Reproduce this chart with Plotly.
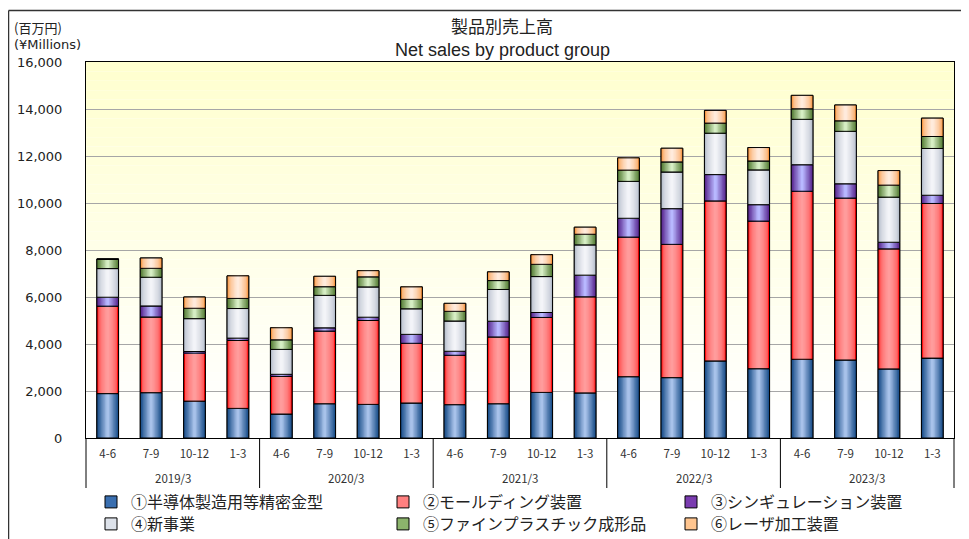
import plotly.graph_objects as go
import numpy as np

# ---------------- data ----------------
fiscal_years = ["2019/3", "2020/3", "2021/3", "2022/3", "2023/3"]
quarters = ["4-6", "7-9", "10-12", "1-3"]

series_names = [
    "①半導体製造用等精密金型",
    "②モールディング装置",
    "③シンギュレーション装置",
    "④新事業",
    "⑤ファインプラスチック成形品",
    "⑥レーザ加工装置",
]

precision_molds = [1890, 1930, 1570, 1260, 1020, 1460, 1430, 1490, 1420, 1460,
                   1940, 1920, 2610, 2570, 3280, 2950, 3350, 3320, 2940, 3400]
molding_equipment = [3720, 3220, 2040, 2890, 1600, 3090, 3570, 2540, 2100, 2840,
                     3190, 4090, 5940, 5670, 6810, 6280, 7150, 6890, 5110, 6580]
singulation_equipment = [380, 470, 70, 100, 90, 140, 140, 380, 170, 670,
                         210, 920, 800, 1520, 1120, 700, 1130, 610, 280, 350]
new_business = [1220, 1220, 1400, 1260, 1060, 1380, 1290, 1090, 1290, 1350,
                1530, 1290, 1570, 1560, 1760, 1480, 1930, 2230, 1920, 1990]
fine_plastic = [400, 380, 440, 430, 410, 370, 430, 400, 410, 380,
                520, 450, 480, 430, 430, 380, 450, 450, 510, 510]
laser_equipment = [0, 440, 480, 960, 510, 440, 260, 530, 340, 370,
                   410, 300, 520, 580, 540, 570, 570, 670, 620, 780]

series_values = [precision_molds, molding_equipment, singulation_equipment,
                 new_business, fine_plastic, laser_equipment]

y_ticks = [0, 2000, 4000, 6000, 8000, 10000, 12000, 14000, 16000]

# ---------------- styles ----------------
# (legend colour, edge colour, centre colour, gamma)
styles = [
    ("#3A6FB0", "#1B4F8A", "#A8C2EA", 1.0),
    ("#FF8080", "#FF0000", "#FF9C9C", 0.3),
    ("#7A3CB0", "#5A2890", "#B8B8FF", 1.0),
    ("#DDE2EA", "#B2BAC8", "#F3F4F8", 0.6),
    ("#8CB46C", "#587F38", "#D6EEC4", 1.0),
    ("#FFC58F", "#F7923A", "#FFEBDC", 0.5),
]
legend_ids = ["legend", "legend2", "legend3", "legend4", "legend5", "legend6"]
# legend anchor positions (page pixels)
legend_px = [(91, 502), (383, 502), (671, 502), (91, 524), (383, 524), (671, 524)]

BAR_W = 0.5
N_STRIPS = 8


def hex2rgb(h):
    h = h.lstrip("#")
    return np.array([int(h[i:i + 2], 16) for i in (0, 2, 4)], dtype=float)


def mix(a, b, t):
    c = hex2rgb(a) * (1 - t) + hex2rgb(b) * t
    return "rgb(%d,%d,%d)" % tuple(np.round(c).astype(int))


n_q = len(quarters)
n_cat = len(fiscal_years) * n_q
x_idx = np.arange(n_cat)
x_quarter_text = [q for _ in fiscal_years for q in quarters]

fig = go.Figure()

bases = np.zeros(n_cat)
for i, vals in enumerate(series_values):
    v = np.array(vals, dtype=float)
    legc, edge, centre, gam = styles[i]
    # legend trace (fully covered on the plot)
    fig.add_trace(go.Bar(
        x=x_idx, y=v, base=bases, width=BAR_W, name=series_names[i],
        marker=dict(color=legc, line=dict(color="black", width=1)),
        legend=legend_ids[i], showlegend=True, hoverinfo="skip",
    ))
    # gradient strips, from outside inward
    for k in range(N_STRIPS):
        frac = 1 - k / N_STRIPS
        t = (k / (N_STRIPS - 1)) ** gam
        fig.add_trace(go.Bar(
            x=x_idx, y=v, base=bases, width=BAR_W * frac,
            marker=dict(color=mix(edge, centre, t), line=dict(width=0)),
            showlegend=False, hoverinfo="skip",
        ))
    # outline
    fig.add_trace(go.Bar(
        x=x_idx, y=v, base=bases, width=BAR_W, name=series_names[i],
        marker=dict(color="rgba(0,0,0,0)", line=dict(color="black", width=1)),
        showlegend=False,
    ))
    bases = bases + v

# ---------------- layout ----------------
OFF = 8  # page body margin
W, H = 969 - OFF, 539 - OFF
PL, PR, PT, PB = 86, 954, 62, 438  # plot area in page pixels
L, T = PL - OFF, PT - OFF
R, B = W - (PR - OFF), H - (PB - OFF)
pw, ph = PR - PL, PB - PT


def px2x(px):
    return (px - PL) / pw


def px2y(py):
    return (PB - py) / ph


shapes = []
n_bands = 40
for k in range(n_bands):
    t = k / (n_bands - 1)
    shapes.append(dict(
        type="rect", xref="paper", yref="paper", x0=0, x1=1,
        y0=1 - (k + 1) / n_bands, y1=1 - k / n_bands,
        fillcolor=mix("#FFFFCF", "#FFFFFF", min(1.0, t * 1.05)),
        line=dict(width=0), layer="below",
    ))
# group dividers below the axis
for g in range(len(fiscal_years) + 1):
    xp = g * n_q / n_cat
    shapes.append(dict(type="line", xref="paper", yref="paper",
                       x0=xp, x1=xp, y0=0, y1=px2y(488),
                       line=dict(color="black", width=1)))
# outer frame (top and left)
shapes.append(dict(type="line", xref="paper", yref="paper",
                   x0=px2x(8.6), x1=px2x(969), y0=px2y(10.5), y1=px2y(10.5),
                   line=dict(color="#333333", width=1.3)))
shapes.append(dict(type="line", xref="paper", yref="paper",
                   x0=px2x(8.6), x1=px2x(8.6), y0=px2y(10.5), y1=px2y(539),
                   line=dict(color="#333333", width=1.3)))

annotations = [
    dict(text="製品別売上高", xref="paper", yref="paper", x=px2x(502), y=px2y(25),
         showarrow=False, xanchor="center", yanchor="middle",
         font=dict(family="Noto Sans CJK JP", size=17, color="#222222")),
    dict(text="Net sales by product group", xref="paper", yref="paper",
         x=px2x(502), y=px2y(50), showarrow=False, xanchor="center", yanchor="middle",
         font=dict(family="Liberation Sans, Arial", size=18, color="#222222")),
    dict(text="(百万円)", xref="paper", yref="paper", x=px2x(12), y=px2y(27),
         showarrow=False, xanchor="left", yanchor="middle",
         font=dict(family="Noto Sans CJK JP", size=13, color="#222222")),
    dict(text="(¥Millions)", xref="paper", yref="paper", x=px2x(12), y=px2y(44),
         showarrow=False, xanchor="left", yanchor="middle",
         font=dict(family="DejaVu Sans", size=13, color="#222222")),
]
for g, fy in enumerate(fiscal_years):
    annotations.append(dict(
        text=fy, xref="x", yref="paper", x=g * n_q + (n_q - 1) / 2, y=px2y(478),
        showarrow=False, xanchor="center", yanchor="middle",
        font=dict(family="Noto Sans CJK JP", size=11.5, color="#333333")))

legend_layouts = {}
for lid, (lx, ly) in zip(legend_ids, legend_px):
    legend_layouts[lid] = dict(
        x=px2x(lx), y=px2y(ly), orientation="h", xanchor="left", yanchor="middle",
        itemwidth=30,
        font=dict(family="Noto Sans CJK JP", size=16, color="#222222"),
        bgcolor="rgba(0,0,0,0)",
    )

fig.update_layout(
    width=W, height=H,
    margin=dict(l=L, r=R, t=T, b=B, pad=0, autoexpand=False),
    barmode="overlay",
    paper_bgcolor="white", plot_bgcolor="white",
    shapes=shapes, annotations=annotations,
    hovermode="closest",
    **legend_layouts,
)

fig.update_xaxes(
    range=[-0.5, n_cat - 0.5], tickvals=x_idx, ticktext=x_quarter_text,
    showgrid=False, showline=True, mirror=True, zeroline=False,
    linecolor="black", linewidth=1, ticks="", automargin=False,
    ticklabelstandoff=5,
    tickfont=dict(family="Noto Sans CJK JP", size=11.5, color="#333333"),
)
fig.update_yaxes(
    range=[0, 16000], tickvals=y_ticks, tickformat=",", showgrid=True,
    gridcolor="#A6A6A6", gridwidth=1, showline=True, mirror=True,
    linecolor="black", linewidth=1, ticks="", zeroline=False, automargin=False,
    ticklabelstandoff=20,
    tickfont=dict(family="DejaVu Sans", size=13, color="#222222"),
)

fig.write_html("out.html")
